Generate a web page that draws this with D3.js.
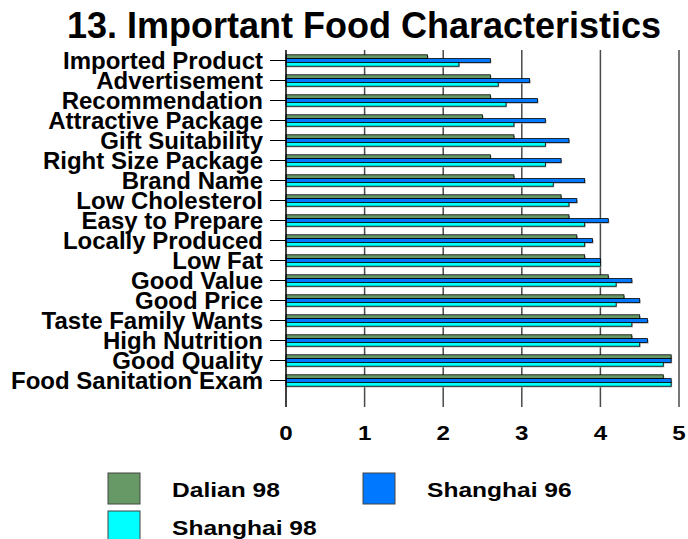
<!DOCTYPE html>
<html>
<head>
<meta charset="utf-8">
<script src="https://cdn.jsdelivr.net/npm/d3@7"></script>
<style>
  body { margin: 0; background: #fff; }
  text { font-family: "Liberation Sans", Arial, sans-serif; font-weight: bold; fill: #000; }
</style>
</head>
<body>
<div id="chart"></div>
<script>
// data
var categories = ["Imported Product", "Advertisement", "Recommendation", "Attractive Package",
  "Gift Suitability", "Right Size Package", "Brand Name", "Low Cholesterol", "Easy to Prepare",
  "Locally Produced", "Low Fat", "Good Value", "Good Price", "Taste Family Wants",
  "High Nutrition", "Good Quality", "Food Sanitation Exam"];
var seriesNames = ["Dalian 98", "Shanghai 96", "Shanghai 98"];
var dalian98 = [1.8, 2.6, 2.6, 2.5, 2.9, 2.6, 2.9, 3.5, 3.6, 3.7, 3.8, 4.1, 4.3, 4.5, 4.4, 4.9, 4.8];
var shanghai96 = [2.6, 3.1, 3.2, 3.3, 3.6, 3.5, 3.8, 3.7, 4.1, 3.9, 4.0, 4.4, 4.5, 4.6, 4.6, 4.9, 4.9];
var shanghai98 = [2.2, 2.7, 2.8, 2.9, 3.3, 3.3, 3.4, 3.6, 3.8, 3.8, 4.0, 4.2, 4.2, 4.4, 4.5, 4.8, 4.9];
var xTicks = [0, 1, 2, 3, 4, 5];
var colors = ["#669966", "#0078ff", "#00ffff"];

var svgWidth = 688, svgHeight = 539;
var svg = d3.select("#chart").append("svg")
  .attr("width", svgWidth)
  .attr("height", svgHeight);

var allSeries = [dalian98, shanghai96, shanghai98];

// scales
var x = d3.scaleLinear().domain([0, 5]).range([286, 679]);
var y = d3.scaleBand().domain(categories).range([50.5, 390.5]);
var inner = d3.scaleBand().domain(seriesNames).range([0, 11.4]);
var groupOffset = (y.bandwidth() - 11.4) / 2;

var plotTop = 50, plotBottom = 407;

// title
svg.append("text")
  .attr("x", 364).attr("y", 38)
  .attr("text-anchor", "middle")
  .style("font-size", "36px")
  .text("13. Important Food Characteristics");

// gridlines (also work as x ticks below the bars)
svg.append("g").selectAll("line")
  .data(xTicks.slice(1))
  .enter().append("line")
  .attr("x1", d => x(d)).attr("x2", d => x(d))
  .attr("y1", plotTop).attr("y2", plotBottom)
  .attr("stroke", "#4a4a4a")
  .attr("stroke-width", 1.5);

// bars
var rows = [];
categories.forEach(function(c, i) {
  seriesNames.forEach(function(s, j) {
    rows.push({cat: c, series: s, value: allSeries[j][i], color: colors[j]});
  });
});

var bars = svg.append("g");
bars.selectAll("rect.shadow")
  .data(rows).enter().append("rect")
  .attr("class", "shadow")
  .attr("x", x(0) + 1)
  .attr("y", d => y(d.cat) + groupOffset + inner(d.series) + 1.2)
  .attr("width", d => x(d.value) - x(0))
  .attr("height", inner.bandwidth())
  .attr("fill", "#aaa");
bars.selectAll("rect.bar")
  .data(rows).enter().append("rect")
  .attr("class", "bar")
  .attr("x", x(0))
  .attr("y", d => y(d.cat) + groupOffset + inner(d.series))
  .attr("width", d => x(d.value) - x(0))
  .attr("height", inner.bandwidth())
  .attr("fill", d => d.color)
  .attr("stroke", "#000")
  .attr("stroke-width", 0.8);

// y axis
svg.append("line")
  .attr("x1", x(0)).attr("x2", x(0))
  .attr("y1", plotTop).attr("y2", plotBottom)
  .attr("stroke", "#000").attr("stroke-width", 1.5);

svg.append("g").selectAll("line")
  .data(categories).enter().append("line")
  .attr("x1", 270).attr("x2", x(0))
  .attr("y1", d => y(d) + y.bandwidth() / 2)
  .attr("y2", d => y(d) + y.bandwidth() / 2)
  .attr("stroke", "#000").attr("stroke-width", 1);

// category labels - tightly packed like the original
svg.append("g").selectAll("text")
  .data(categories).enter().append("text")
  .attr("x", 263)
  .attr("y", d => y(d) + y.bandwidth() / 2 + 8.5)
  .attr("text-anchor", "end")
  .style("font-size", "24px")
  .text(d => d);

// x tick labels (glyphs look a bit wide in the original)
svg.append("g").selectAll("text")
  .data(xTicks).enter().append("text")
  .attr("transform", d => `translate(${x(d)}, 440) scale(1.15, 1)`)
  .attr("text-anchor", "middle")
  .style("font-size", "21px")
  .text(d => d);

// legend
var legendPos = [[108, 473], [363, 473], [108, 511]];
var legend = svg.append("g").selectAll("g")
  .data(seriesNames).enter().append("g")
  .attr("transform", (d, i) => `translate(${legendPos[i][0]}, ${legendPos[i][1]})`);
legend.append("rect")
  .attr("width", 32).attr("height", 31)
  .attr("fill", (d, i) => colors[i])
  .attr("stroke", "#444").attr("stroke-width", 1);
legend.append("text")
  .attr("transform", "translate(64, 24) scale(1.17, 1)")
  .style("font-size", "21px")
  .text(d => d);
</script>
</body>
</html>
